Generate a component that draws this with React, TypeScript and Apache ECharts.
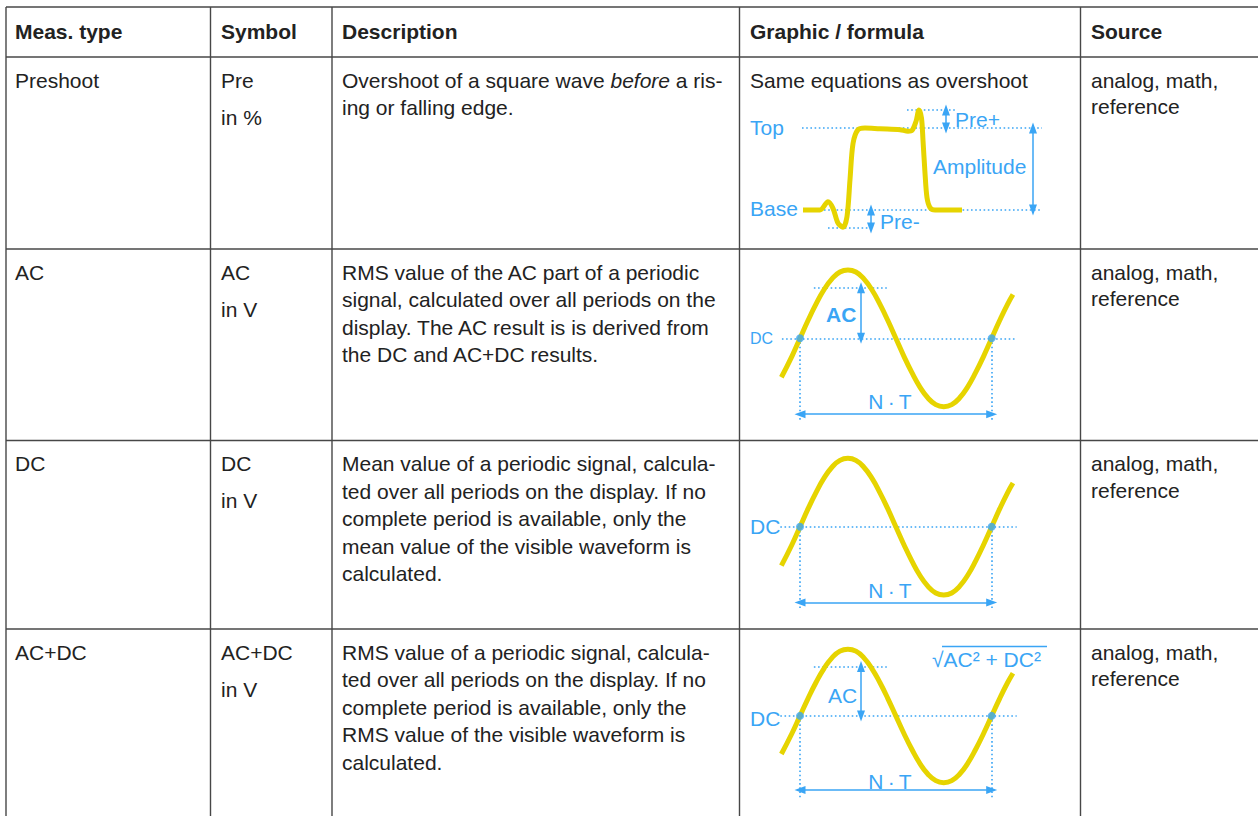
import React, { useEffect, useRef } from "react";
import * as echarts from "echarts";

// ---------- table content ----------
const headers = ["Meas. type", "Symbol", "Description", "Graphic / formula", "Source"];
const measTypes = ["Preshoot", "AC", "DC", "AC+DC"];
const symbols = ["Pre", "AC", "DC", "AC+DC"];
const units = ["in %", "in V", "in V", "in V"];
const descriptions: string[][] = [
  ["Overshoot of a square wave before a ris-", "ing or falling edge."],
  [
    "RMS value of the AC part of a periodic",
    "signal, calculated over all periods on the",
    "display. The AC result is is derived from",
    "the DC and AC+DC results.",
  ],
  [
    "Mean value of a periodic signal, calcula-",
    "ted over all periods on the display. If no",
    "complete period is available, only the",
    "mean value of the visible waveform is",
    "calculated.",
  ],
  [
    "RMS value of a periodic signal, calcula-",
    "ted over all periods on the display. If no",
    "complete period is available, only the",
    "RMS value of the visible waveform is",
    "calculated.",
  ],
];
const sources = [["analog, math,", "reference"], ["analog, math,", "reference"], ["analog, math,", "reference"], ["analog, math,", "reference"]];
const preshootNote = "Same equations as overshoot";
const formulaText = "\u221AAC\u00B2 + DC\u00B2";

// ---------- waveform data ----------
// Preshoot: time (arb. units) vs level (base = 0, top = 1)
const preshootTime = [3, 20, 28, 33, 38, 43, 47, 50, 53, 58, 65, 80, 100, 108, 112, 116, 119, 121.5, 123, 125, 127, 130, 135, 162];
const preshootLevel = [0, 0, 0.1, 0.02, -0.16, -0.21, -0.08, 0.37, 0.81, 0.98, 1.0, 0.99, 0.98, 0.96, 0.97, 1.08, 1.22, 1.12, 0.85, 0.45, 0.15, 0.03, 0, 0];
const preTopLevel = 1;
const preBaseLevel = 0;
const prePlusLevel = 1.22;
const preMinusLevel = -0.22;

// Sine: phase in degrees vs normalized level (DC = 0)
const sineDeg = [-35, -15, 0, 15, 30, 45, 60, 75, 90, 105, 120, 135, 150, 165, 180, 195, 210, 225, 240, 255, 270, 285, 300, 315, 330, 345, 360, 375, 390, 400];
const sineLevel = [-0.57, -0.26, 0, 0.26, 0.5, 0.71, 0.87, 0.97, 1, 0.97, 0.87, 0.71, 0.5, 0.26, 0, -0.26, -0.5, -0.71, -0.87, -0.97, -1, -0.97, -0.87, -0.71, -0.5, -0.26, 0, 0.26, 0.5, 0.64];
const dcCrossDeg = [0, 360];
const acLevel = 0.74;

// ---------- styles ----------
const FONT = 'Arial, "Liberation Sans", Helvetica, sans-serif';
const TEXT = "#222222";
const BLUE = "#3aa5f5";
const YELLOW = "#e6d400";
const RULE = "#474747";
const FS = 21;

const colX = [6, 210.5, 332, 739.5, 1080.5];
const rowY = [7, 57, 249, 440.5, 629];

function txt(text: string, x: number, y: number, opts: any = {}) {
  return {
    type: "text",
    x,
    y,
    silent: true,
    z: 10,
    style: {
      text,
      fill: opts.fill || TEXT,
      fontSize: opts.fontSize || FS,
      fontFamily: FONT,
      fontWeight: opts.fontWeight || "normal",
      align: opts.align || "left",
      verticalAlign: "middle",
    },
  };
}

function hline(x1: number, x2: number, y: number, color = RULE, w = 1.4) {
  return { type: "line", silent: true, z: 5, shape: { x1, y1: y, x2, y2: y }, style: { stroke: color, lineWidth: w } };
}
function vline(x: number, y1: number, y2: number) {
  return { type: "line", silent: true, z: 5, shape: { x1: x, y1, x2: x, y2 }, style: { stroke: RULE, lineWidth: 1.4 } };
}

const dotted = { type: [1.6, 2.6], width: 1.6, color: BLUE };
const solid = { type: "solid", width: 1.5, color: BLUE };
const ARROW = [8, 11];

function seg(a: number[], b: number[], style: any, arrows = false) {
  return [
    { coord: a, lineStyle: style, symbol: arrows ? "triangle" : "none", symbolSize: ARROW, symbolOffset: [0, 0] },
    { coord: b, symbol: arrows ? "triangle" : "none", symbolSize: ARROW, symbolOffset: [0, 0] },
  ];
}

export default function App() {
  const ref = useRef<HTMLDivElement>(null);

  useEffect(() => {
    if (!ref.current) return;
    const chart = echarts.init(ref.current, undefined, { renderer: "svg" });

    const graphic: any[] = [];
    // table rules
    rowY.forEach((y) => graphic.push(hline(colX[0], 1258, y)));
    colX.forEach((x) => graphic.push(vline(x, rowY[0], 816)));
    const textX = [15, 221, 342, 750, 1091];
    headers.forEach((h, i) => graphic.push(txt(h, textX[i], 31.5, { fontWeight: "bold" })));

    measTypes.forEach((m, r) => {
      const y0 = rowY[r + 1] + 23.2;
      graphic.push(txt(m, textX[0], y0));
      graphic.push(txt(symbols[r], textX[1], y0));
      graphic.push(txt(units[r], textX[1], y0 + 37));
      descriptions[r].forEach((line, k) => {
        if (r === 0 && k === 0) {
          graphic.push({
            type: "text",
            x: textX[2],
            y: y0,
            silent: true,
            z: 10,
            style: {
              text: "{n|Overshoot of a square wave }{i|before}{n| a ris-}",
              verticalAlign: "middle",
              rich: {
                n: { fill: TEXT, fontSize: FS, fontFamily: FONT },
                i: { fill: TEXT, fontSize: FS, fontFamily: FONT, fontStyle: "italic" },
              },
            },
          });
        } else {
          graphic.push(txt(line, textX[2], y0 + k * 27.5));
        }
      });
      sources[r].forEach((line, k) => graphic.push(txt(line, textX[4], y0 + k * 26.5)));
    });

    // diagram labels
    graphic.push(txt(preshootNote, 750, 80.5));
    graphic.push(txt("Top", 750, 127.5, { fill: BLUE }));
    graphic.push(txt("Base", 750, 208, { fill: BLUE }));
    graphic.push(txt("Pre+", 955, 119, { fill: BLUE }));
    graphic.push(txt("Pre-", 880, 221.5, { fill: BLUE }));
    graphic.push(txt("Amplitude", 933, 166.5, { fill: BLUE }));

    graphic.push(txt("DC", 750, 338.5, { fill: BLUE, fontSize: 16 }));
    graphic.push(txt("AC", 826, 314, { fill: BLUE, fontWeight: "bold", fontSize: 21 }));
    graphic.push(txt("N\u2009\u00B7\u2009T", 890, 401.5, { fill: BLUE, align: "center" }));

    graphic.push(txt("DC", 750, 526.5, { fill: BLUE }));
    graphic.push(txt("N\u2009\u00B7\u2009T", 890, 590, { fill: BLUE, align: "center" }));

    graphic.push(txt("DC", 750, 718.5, { fill: BLUE }));
    graphic.push(txt("AC", 828, 695, { fill: BLUE }));
    graphic.push(txt("N\u2009\u00B7\u2009T", 890, 781.5, { fill: BLUE, align: "center" }));
    graphic.push(txt(formulaText, 932, 659, { fill: BLUE, fontSize: 21 }));
    graphic.push(hline(942, 1047, 646.5, BLUE, 1.5));

    // grids
    const sineTops = [235.8, 424.2, 615.8];
    const grids: any[] = [
      { left: 800, top: 46, width: 250, height: 246 },
      ...sineTops.map((t) => ({ left: 768.06, top: t, width: 266.2, height: 205 })),
    ];
    const xAxes: any[] = grids.map((_, i) => ({
      type: "value",
      gridIndex: i,
      min: i === 0 ? 0 : -60,
      max: i === 0 ? 250 : 440,
      show: false,
    }));
    const yAxes: any[] = grids.map((_, i) => ({
      type: "value",
      gridIndex: i,
      min: i === 0 ? -1 : -1.5,
      max: i === 0 ? 2 : 1.5,
      show: false,
    }));

    const markBase = {
      z: 1,
      silent: true,
      symbol: ["none", "none"],
      label: { show: false },
      emphasis: { disabled: true },
    };

    const series: any[] = [];
    // preshoot
    series.push({
      type: "line",
      xAxisIndex: 0,
      yAxisIndex: 0,
      data: preshootTime.map((t, i) => [t, preshootLevel[i]]),
      showSymbol: false,
      smooth: 0.3,
      z: 2,
      lineStyle: { color: YELLOW, width: 5 },
      silent: true,
      markLine: {
        ...markBase,
        data: [
          seg([2, preTopLevel], [242, preTopLevel], dotted),
          seg([3, preBaseLevel], [242, preBaseLevel], dotted),
          seg([107, prePlusLevel], [157, prePlusLevel], dotted),
          seg([28, preMinusLevel], [73, preMinusLevel], dotted),
          seg([146, prePlusLevel], [146, preTopLevel], solid, true),
          seg([71, preBaseLevel], [71, preMinusLevel], solid, true),
          seg([233, preTopLevel], [233, preBaseLevel], solid, true),
        ],
      },
    });

    [1, 2, 3].forEach((gi) => {
      const withAC = gi !== 2;
      const dcStart = gi === 1 ? -34 : -37;
      const ann: any[] = [
        seg([dcStart, 0], [407, 0], dotted),
        seg([dcCrossDeg[0], 0], [dcCrossDeg[0], -1.22], dotted),
        seg([dcCrossDeg[1], 0], [dcCrossDeg[1], -1.22], dotted),
        seg([dcCrossDeg[0], -1.11], [dcCrossDeg[1], -1.11], solid, true),
      ];
      if (withAC) {
        ann.push(seg([26, acLevel], [163, acLevel], dotted));
        ann.push(seg([114.6, acLevel], [114.6, 0], solid, true));
      }
      series.push({
        type: "line",
        xAxisIndex: gi,
        yAxisIndex: gi,
        data: sineDeg.map((d, i) => [d, sineLevel[i]]),
        showSymbol: false,
        smooth: 0.5,
        z: 2,
        silent: true,
        lineStyle: { color: YELLOW, width: 5 },
        markLine: { ...markBase, data: ann },
      });
      series.push({
        type: "scatter",
        xAxisIndex: gi,
        yAxisIndex: gi,
        data: dcCrossDeg.map((d) => [d, 0]),
        symbol: "circle",
        symbolSize: 8,
        z: 3,
        silent: true,
        itemStyle: { color: BLUE },
      });
    });

    chart.setOption({
      animation: false,
      backgroundColor: "#ffffff",
      grid: grids,
      xAxis: xAxes,
      yAxis: yAxes,
      series,
      graphic,
    });

    return () => chart.dispose();
  }, []);

  return (
    <div
      ref={ref}
      style={{ position: "fixed", left: 0, top: 0, width: 1258, height: 816, background: "#fff" }}
    />
  );
}
